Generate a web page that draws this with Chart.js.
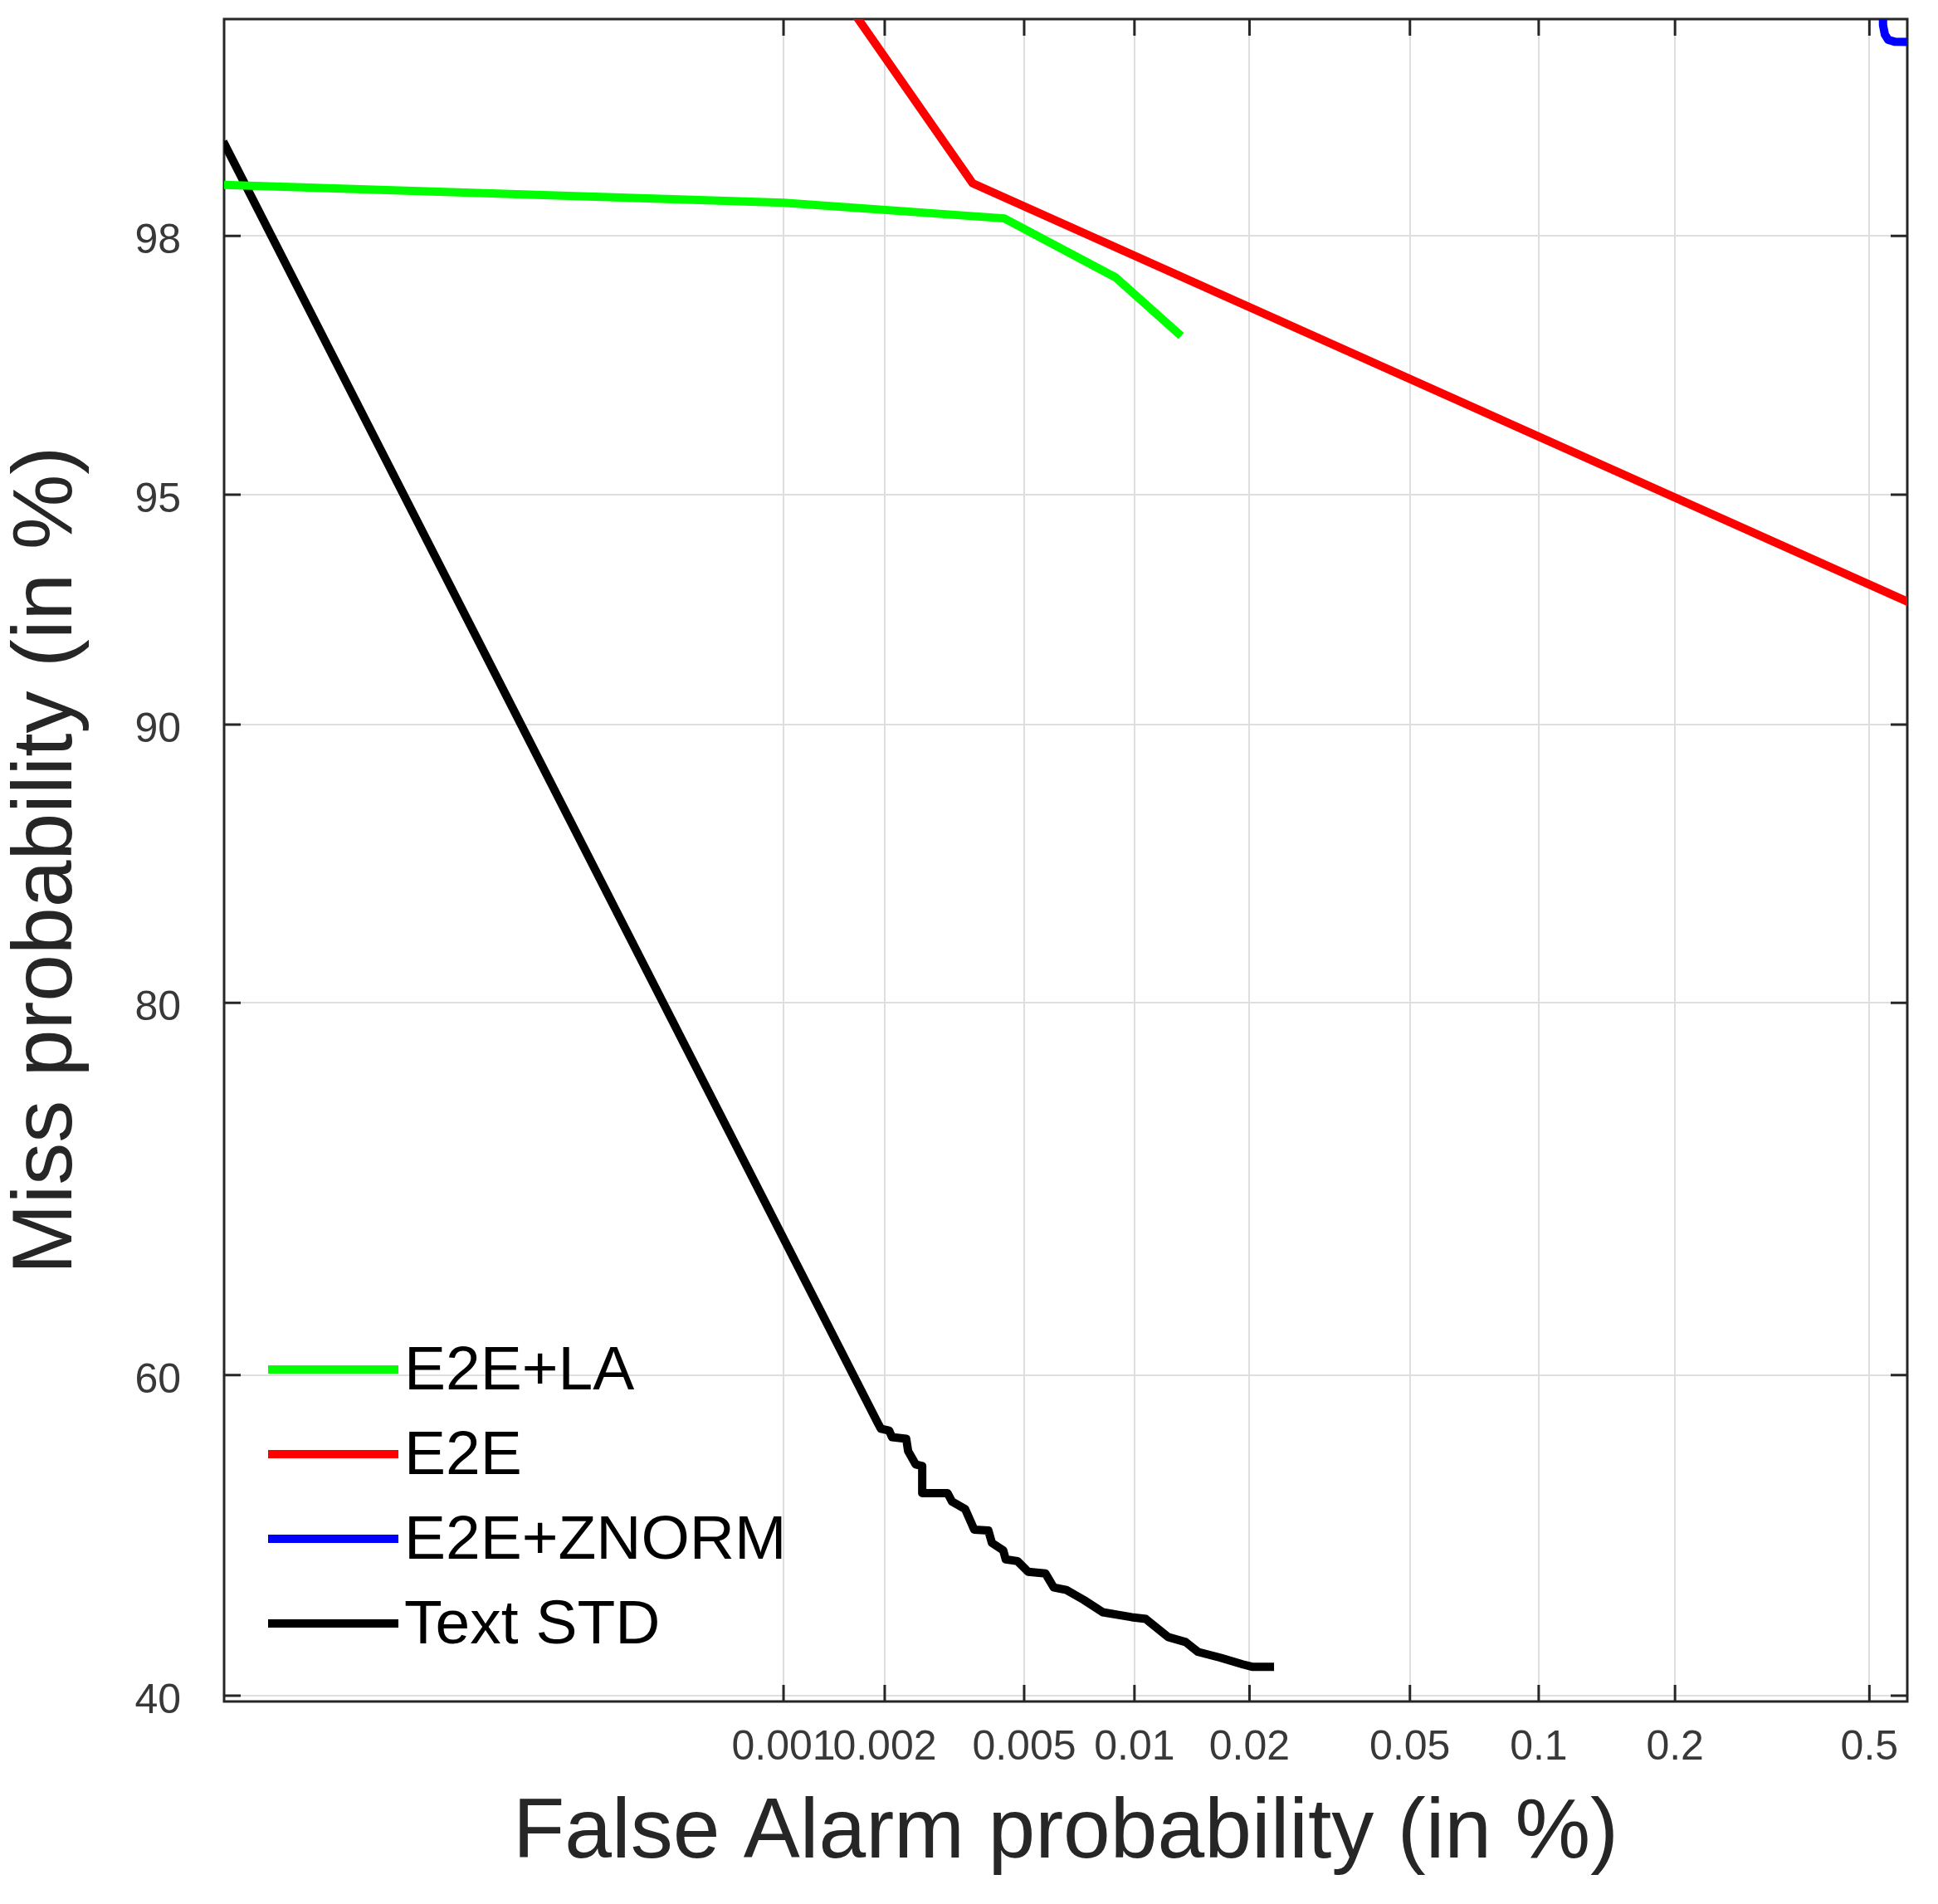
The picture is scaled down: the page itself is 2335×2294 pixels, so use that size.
<!DOCTYPE html>
<html>
<head>
<meta charset="utf-8">
<title>DET curves</title>
<script src="https://cdn.jsdelivr.net/npm/chart.js@4.4.1/dist/chart.umd.min.js"></script>
<style>
  html, body { margin: 0; padding: 0; background: #ffffff; }
  #wrap { width: 2335px; height: 2294px; position: relative; }
</style>
</head>
<body>
<div id="wrap"><canvas id="detChart"></canvas></div>
<script>
// values, all in %
var xTicks = [0.001, 0.002, 0.005, 0.01, 0.02, 0.05, 0.1, 0.2, 0.5];
var yTicks = [40, 60, 80, 90, 95, 98];
var xRange = [0.0000141, 0.592];
var yRange = [39.65, 99.172];

var labels = ['E2E+LA', 'E2E', 'E2E+ZNORM', 'Text STD'];
var colors = ['#00ff00', '#ff0000', '#0000ff', '#000000'];

var faE2ELA = [0.000014, 0.001, 0.0044, 0.0089, 0.0133];
var missE2ELA = [98.36, 98.24, 98.13, 97.66, 97.10];

var faE2E = [0.0012, 0.00358, 0.62];
var missE2E = [99.39, 98.37, 92.9];

var faZnorm = [0.5305, 0.5315, 0.536, 0.544, 0.559, 0.65];
var missZnorm = [99.4, 99.15, 99.115, 99.095, 99.088, 99.085];

var faText = [0.000014, 0.00192, 0.00195, 0.00206, 0.00210, 0.00231, 0.00234, 0.00246, 0.00257,
  0.00257, 0.00304, 0.00313, 0.00341, 0.00362, 0.00397, 0.00406, 0.00437, 0.00444, 0.00479,
  0.00513, 0.00573, 0.00604, 0.00654, 0.00729, 0.00822, 0.00983, 0.01072, 0.01229, 0.01366,
  0.01472, 0.01683, 0.01921, 0.0203, 0.0231];
var missText = [98.62, 56.95, 56.69, 56.58, 56.17, 56.07, 55.30, 54.47, 54.37,
  52.66, 52.66, 52.13, 51.67, 50.36, 50.31, 49.53, 49.06, 48.49, 48.38,
  47.71, 47.60, 46.72, 46.57, 45.95, 45.17, 44.86, 44.75, 43.62, 43.31,
  42.70, 42.34, 41.93, 41.78, 41.78];

var fontFamily = '"Liberation Sans", Arial, Helvetica, sans-serif';
var axisColor = '#262626';
var tickColor = '#383838';

// inverse normal cdf (Acklam)
function probit(p) {
	var a = [-3.969683028665376e+01, 2.209460984245205e+02, -2.759285104469687e+02, 1.383577518672690e+02, -3.066479806614716e+01, 2.506628277459239e+00];
	var b = [-5.447609879822406e+01, 1.615858368580409e+02, -1.556989798598866e+02, 6.680131188771972e+01, -1.328068155288572e+01];
	var c = [-7.784894002430293e-03, -3.223964580411365e-01, -2.400758277161838e+00, -2.549732539343734e+00, 4.374664141464968e+00, 2.938163982698783e+00];
	var d = [7.784695709041462e-03, 3.224671290700398e-01, 2.445134137142996e+00, 3.754408661907416e+00];
	var q, r;
	if (p < 0.02425) {
		q = Math.sqrt(-2 * Math.log(p));
		return (((((c[0]*q+c[1])*q+c[2])*q+c[3])*q+c[4])*q+c[5]) / ((((d[0]*q+d[1])*q+d[2])*q+d[3])*q+1);
	} else if (p <= 1 - 0.02425) {
		q = p - 0.5; r = q * q;
		return (((((a[0]*r+a[1])*r+a[2])*r+a[3])*r+a[4])*r+a[5])*q / (((((b[0]*r+b[1])*r+b[2])*r+b[3])*r+b[4])*r+1);
	}
	q = Math.sqrt(-2 * Math.log(1 - p));
	return -(((((c[0]*q+c[1])*q+c[2])*q+c[3])*q+c[4])*q+c[5]) / ((((d[0]*q+d[1])*q+d[2])*q+d[3])*q+1);
}

function normCdf(z) {
	var t = 1 / (1 + 0.3275911 * Math.abs(z) / Math.SQRT2);
	var e = 1 - (((((1.061405429*t - 1.453152027)*t) + 1.421413741)*t - 0.284496736)*t + 0.254829592)*t * Math.exp(-z*z/2);
	return z >= 0 ? (1 + e) / 2 : (1 - e) / 2;
}

// normal deviate scale, values given in %
class ProbitScale extends Chart.Scale {
	parse(raw) {
		if (raw === null || raw === undefined) return null;
		return +raw;
	}
	determineDataLimits() {
		this.min = this.options.min;
		this.max = this.options.max;
	}
	buildTicks() {
		return [];
	}
	getLabelForValue(v) {
		return String(v);
	}
	configure() {
		super.configure();
		this._zMin = probit(this.min / 100);
		this._zMax = probit(this.max / 100);
	}
	getPixelForValue(v) {
		if (v === null || v === undefined || isNaN(v)) return NaN;
		return this.getPixelForDecimal((probit(v / 100) - this._zMin) / (this._zMax - this._zMin));
	}
	getValueForPixel(px) {
		return normCdf(this._zMin + this.getDecimalForPixel(px) * (this._zMax - this._zMin)) * 100;
	}
}
ProbitScale.id = 'probit';
ProbitScale.defaults = {};
Chart.register(ProbitScale);

function points(xs, ys) {
	return xs.map(function(x, i) { return {x: x, y: ys[i]}; });
}

var series = [
	points(faE2ELA, missE2ELA),
	points(faE2E, missE2E),
	points(faZnorm, missZnorm),
	points(faText, missText)
];

// matlab style box with inward ticks
var boxPlugin = {
	id: 'boxTicks',
	beforeDatasetsDraw: function(chart) {
		var ctx = chart.ctx, a = chart.chartArea;
		var sx = chart.scales.x, sy = chart.scales.y;
		var len = 20;
		ctx.save();
		ctx.strokeStyle = axisColor;
		ctx.lineWidth = 3;
		ctx.beginPath();
		sx.ticks.forEach(function(t) {
			var px = sx.getPixelForValue(t.value);
			ctx.moveTo(px, a.bottom); ctx.lineTo(px, a.bottom - len);
			ctx.moveTo(px, a.top); ctx.lineTo(px, a.top + len);
		});
		sy.ticks.forEach(function(t) {
			var py = sy.getPixelForValue(t.value);
			ctx.moveTo(a.left, py); ctx.lineTo(a.left + len, py);
			ctx.moveTo(a.right, py); ctx.lineTo(a.right - len, py);
		});
		ctx.stroke();
		ctx.strokeRect(a.left, a.top, a.right - a.left, a.bottom - a.top);
		ctx.restore();
	}
};

// legend inside the axes, lower left, no frame
var legendPlugin = {
	id: 'innerLegend',
	afterDatasetsDraw: function(chart) {
		var ctx = chart.ctx, a = chart.chartArea;
		ctx.save();
		ctx.font = '75px ' + fontFamily;
		ctx.textBaseline = 'middle';
		ctx.textAlign = 'left';
		chart.data.datasets.forEach(function(ds, i) {
			var y = a.bottom - 400 + i * 102;
			ctx.strokeStyle = ds.borderColor;
			ctx.lineWidth = 10;
			ctx.beginPath();
			ctx.moveTo(a.left + 53, y);
			ctx.lineTo(a.left + 210, y);
			ctx.stroke();
			ctx.fillStyle = '#000000';
			ctx.fillText(ds.label, a.left + 217, y + 3);
		});
		ctx.restore();
	}
};

Chart.defaults.font.family = fontFamily;

new Chart(document.getElementById('detChart').getContext('2d'), {
	type: 'line',
	data: {
		datasets: series.map(function(pts, i) {
			return {
				label: labels[i],
				data: pts,
				borderColor: colors[i],
				backgroundColor: colors[i],
				borderWidth: 10,
				borderJoinStyle: 'round',
				pointRadius: 0,
				pointHoverRadius: 0,
				fill: false,
				tension: 0
			};
		})
	},
	options: {
		responsive: true,
		maintainAspectRatio: false,
		devicePixelRatio: 1,
		animation: false,
		events: [],
		layout: { padding: { top: 23, right: 37, bottom: 0, left: 0 } },
		plugins: {
			legend: { display: false },
			tooltip: { enabled: false }
		},
		scales: {
			x: {
				type: 'probit',
				position: 'bottom',
				min: xRange[0],
				max: xRange[1],
				afterBuildTicks: function(s) { s.ticks = xTicks.map(function(v) { return {value: v}; }); },
				afterFit: function(s) { s.height = 244; s.paddingLeft = 0; s.paddingRight = 0; },
				grid: { color: '#dedede', lineWidth: 2, drawTicks: false },
				border: { display: false },
				ticks: {
					autoSkip: false, maxRotation: 0, minRotation: 0,
					padding: 26,
					color: tickColor,
					font: { size: 50 },
					callback: function(v) { return String(v); }
				},
				title: {
					display: true,
					text: 'False Alarm probability (in %)',
					color: axisColor,
					font: { size: 102, lineHeight: 1 },
					padding: { top: 0, bottom: 33 }
				}
			},
			y: {
				type: 'probit',
				position: 'left',
				min: yRange[0],
				max: yRange[1],
				afterBuildTicks: function(s) { s.ticks = yTicks.map(function(v) { return {value: v}; }); },
				afterFit: function(s) { s.width = 270; s.paddingTop = 0; s.paddingBottom = 0; },
				grid: { color: '#dedede', lineWidth: 2, drawTicks: false },
				border: { display: false },
				ticks: {
					autoSkip: false,
					padding: 52,
					labelOffset: 7,
					color: tickColor,
					font: { size: 50 },
					callback: function(v) { return String(v); }
				},
				title: {
					display: true,
					text: 'Miss probability (in %)',
					color: axisColor,
					font: { size: 102, lineHeight: 1 },
					padding: { top: 7, bottom: 0 }
				}
			}
		}
	},
	plugins: [boxPlugin, legendPlugin]
});
</script>
</body>
</html>
